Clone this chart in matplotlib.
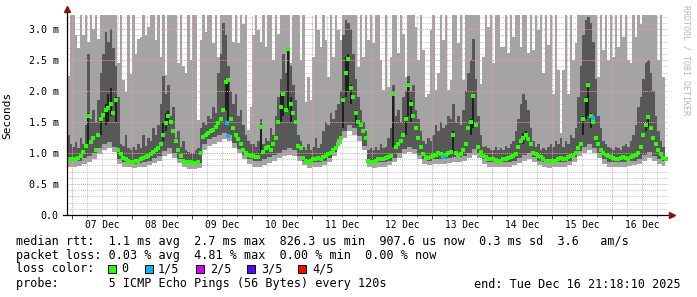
import numpy as np
import matplotlib
matplotlib.use("Agg")
import matplotlib.pyplot as plt
from matplotlib.patches import Rectangle
from matplotlib.lines import Line2D

# ---------------- data (hours since 07 Dec 00:00, values in ms) ----------------
day_labels = ["07 Dec", "08 Dec", "09 Dec", "10 Dec", "11 Dec",
              "12 Dec", "13 Dec", "14 Dec", "15 Dec", "16 Dec"]
hour_start = -2          # first hourly sample
end_hour = 237.3         # end: Tue Dec 16 21:18:10

# median rtt, hourly
median = [0.91, 0.90,
    0.90, 0.91, 0.92, 0.95, 1.02, 1.12, 1.60, 1.18, 1.25, 1.05, 1.30, 1.55, 1.62, 1.70, 1.72, 1.80, 1.65, 1.85, 1.05, 0.98, 0.92, 0.90, 0.88, 0.86,
    0.86, 0.87, 0.88, 0.90, 0.92, 0.93, 0.95, 0.98, 1.02, 1.05, 1.08, 1.15, 1.30, 1.48, 1.60, 1.50, 1.35, 1.20, 1.05, 0.95, 0.88, 0.86, 0.85, 0.85,
    0.84, 0.84, 0.86, 1.00, 1.26, 1.30, 1.33, 1.35, 1.38, 1.42, 1.48, 1.55, 1.70, 2.15, 2.18, 1.55, 1.40, 1.30, 1.22, 1.15, 1.05, 1.00, 0.97, 0.95,
    0.95, 0.93, 0.94, 1.42, 1.02, 1.08, 1.10, 1.05, 1.15, 1.25, 1.50, 1.75, 1.95, 1.70, 2.68, 1.80, 1.65, 1.50, 1.12, 1.08, 0.92, 0.88, 0.86, 0.87,
    0.90, 0.91, 0.92, 0.90, 0.93, 0.96, 0.98, 1.00, 1.05, 1.08, 1.15, 1.25, 1.85, 2.30, 2.52, 2.05, 1.90, 1.65, 1.50, 1.45, 1.35, 1.25, 0.88, 0.86,
    0.86, 0.88, 0.90, 0.90, 0.91, 0.92, 0.93, 0.95, 1.95, 1.10, 1.15, 1.20, 1.30, 1.55, 2.10, 1.80, 1.60, 1.40, 1.25, 1.10, 0.98, 0.93, 0.92, 0.94,
    0.95, 0.97, 1.00, 0.98, 0.96, 0.97, 1.00, 1.02, 1.30, 1.00, 0.97, 0.98, 1.05, 1.15, 1.40, 1.50, 1.92, 1.45, 1.10, 1.02, 0.96, 0.93, 0.90, 0.90,
    0.90, 0.89, 0.88, 0.88, 0.90, 0.91, 0.92, 0.93, 0.95, 0.98, 1.10, 1.20, 1.25, 1.30, 1.22, 1.15, 1.00, 0.98, 0.95, 0.93, 0.90, 0.88, 0.87, 0.87,
    0.88, 0.88, 0.90, 0.92, 0.90, 0.91, 0.93, 0.95, 0.96, 1.00, 1.08, 1.15, 1.55, 1.85, 2.10, 1.60, 1.50, 1.25, 1.15, 1.05, 1.00, 0.97, 0.95, 0.93,
    0.92, 0.91, 0.90, 0.92, 0.93, 0.92, 0.91, 0.93, 0.95, 0.97, 1.00, 1.10, 1.30, 1.45, 1.58, 1.40, 1.25, 1.15, 1.05, 0.98, 0.92, 0.90]

# slowest ping (top of the smoke), hourly
ping_max = [2.25, 3.4,
    3.4, 2.90, 2.70, 3.4, 2.90, 3.4, 2.80, 3.4, 3.00, 3.4, 2.85, 3.4, 3.4, 3.4, 3.4, 3.4, 3.4, 3.4, 2.45, 3.4, 2.18, 1.99, 3.4, 2.28,
    3.4, 2.60, 2.85, 2.88, 3.4, 2.90, 3.03, 3.4, 3.4, 2.82, 3.4, 2.55, 3.4, 2.26, 3.4, 3.4, 3.4, 3.4, 2.45, 3.4, 2.40, 2.30, 3.4, 2.50,
    3.4, 3.4, 1.53, 2.82, 3.4, 2.96, 3.4, 3.4, 2.77, 3.4, 2.55, 3.4, 3.4, 3.4, 3.4, 3.4, 2.80, 3.4, 2.77, 3.4, 3.09, 3.4, 1.37, 1.75,
    2.90, 3.4, 2.98, 2.80, 3.4, 2.71, 3.4, 3.4, 2.50, 3.4, 2.93, 3.4, 3.4, 3.4, 3.4, 2.45, 3.4, 3.4, 3.4, 2.50, 3.4, 1.83, 2.23, 1.85,
    2.55, 3.4, 2.98, 2.71, 3.4, 2.82, 2.23, 3.4, 2.55, 3.4, 2.98, 2.82, 3.4, 3.4, 3.4, 3.4, 3.4, 3.4, 2.39, 3.4, 2.55, 3.4, 2.82, 3.4,
    2.77, 3.4, 3.4, 2.50, 2.02, 3.4, 2.07, 2.55, 3.4, 3.4, 2.61, 3.4, 2.93, 2.23, 3.4, 3.4, 3.4, 3.04, 2.50, 3.4, 2.66, 1.91, 1.95, 2.98,
    3.4, 2.02, 2.29, 3.4, 2.82, 3.4, 2.02, 2.18, 3.4, 3.4, 2.77, 3.4, 2.18, 3.4, 3.4, 3.4, 3.4, 3.4, 3.4, 2.12, 2.55, 3.4, 3.04, 3.4,
    2.45, 3.4, 3.4, 2.71, 2.71, 3.4, 2.61, 3.4, 2.88, 3.4, 3.4, 2.71, 3.4, 3.4, 2.61, 3.4, 2.66, 3.4, 2.98, 3.4, 2.30, 3.4, 2.75, 3.4,
    1.96, 3.4, 2.34, 1.32, 2.34, 3.4, 1.96, 3.4, 2.50, 2.77, 3.4, 3.4, 3.4, 3.4, 3.4, 3.4, 3.4, 3.4, 2.23, 3.4, 2.66, 3.4, 2.50, 3.4,
    2.55, 3.4, 2.71, 3.4, 2.88, 3.4, 2.50, 2.45, 3.4, 2.88, 3.4, 3.09, 3.4, 3.4, 3.4, 3.4, 3.4, 3.4, 2.50, 3.4, 2.23, 2.82]

# upper edge of the dark smoke, hourly
ping_high = [1.30, 1.15,
    1.10, 1.18, 1.08, 1.25, 1.15, 1.45, 2.60, 1.55, 1.70, 1.50, 1.85, 2.30, 2.60, 2.95, 2.80, 3.00, 2.70, 2.40, 1.90, 1.15, 1.12, 1.30, 1.08, 1.05,
    1.10, 1.05, 1.15, 1.08, 1.30, 1.12, 1.25, 1.20, 1.40, 1.30, 1.45, 1.80, 2.25, 1.95, 2.10, 1.60, 1.75, 1.25, 1.35, 1.10, 1.20, 1.05, 1.02, 1.00,
    1.00, 1.05, 1.08, 1.40, 1.50, 1.45, 1.60, 1.55, 1.75, 1.65, 2.30, 2.60, 3.10, 2.90, 2.40, 2.00, 1.80, 1.95, 1.60, 1.70, 1.45, 1.30, 1.20, 1.15,
    1.15, 1.10, 1.20, 1.55, 1.15, 1.25, 1.20, 1.40, 1.30, 1.60, 1.90, 2.20, 2.60, 2.30, 2.70, 2.40, 2.10, 1.85, 1.30, 1.20, 1.10, 1.05, 1.15, 1.05,
    1.10, 1.25, 1.08, 1.15, 1.35, 1.50, 1.45, 1.65, 1.55, 1.70, 1.80, 2.00, 2.90, 3.15, 3.10, 3.00, 2.60, 2.20, 1.90, 1.70, 1.50, 1.35, 1.05, 1.08,
    1.05, 1.10, 1.05, 1.15, 1.08, 1.10, 1.25, 1.40, 2.10, 1.60, 1.70, 1.50, 1.90, 2.00, 2.25, 2.00, 2.10, 1.70, 1.55, 1.35, 1.20, 1.15, 1.25, 1.20,
    1.30, 1.45, 1.35, 1.50, 1.40, 1.45, 1.60, 1.55, 1.80, 1.50, 1.60, 1.45, 1.70, 2.00, 2.30, 2.50, 2.85, 2.20, 1.60, 1.30, 1.10, 1.12, 1.08, 1.05,
    1.05, 1.10, 1.05, 1.08, 1.05, 1.12, 1.08, 1.15, 1.20, 1.35, 1.55, 1.80, 1.95, 1.85, 1.70, 1.40, 1.20, 1.10, 1.15, 1.05, 1.08, 1.05, 1.10, 1.15,
    1.10, 1.20, 1.15, 1.25, 1.10, 1.20, 1.15, 1.30, 1.25, 1.40, 1.90, 2.40, 2.90, 3.15, 3.20, 3.10, 2.80, 2.20, 1.60, 1.40, 1.20, 1.15, 1.10, 1.08,
    1.05, 1.10, 1.08, 1.05, 1.12, 1.15, 1.10, 1.20, 1.30, 1.45, 1.75, 1.90, 2.20, 2.45, 2.50, 2.30, 2.00, 1.60, 1.35, 1.20, 1.10, 1.08]

# two-hourly lower smoke bands
ping_min = [0.78,
    0.78, 0.79, 0.82, 0.86, 0.90, 0.98, 1.05, 1.08, 1.02, 0.82, 0.78, 0.77,
    0.76, 0.77, 0.78, 0.80, 0.84, 0.88, 0.95, 0.98, 0.92, 0.84, 0.77, 0.75,
    0.74, 0.76, 1.05, 1.12, 1.15, 1.18, 1.22, 1.20, 1.08, 1.00, 0.90, 0.82,
    0.78, 0.78, 0.80, 0.84, 0.88, 0.92, 0.95, 0.97, 0.95, 0.88, 0.80, 0.76,
    0.77, 0.78, 0.80, 0.85, 0.95, 1.15, 1.25, 1.35, 1.30, 1.20, 1.05, 0.78,
    0.76, 0.77, 0.78, 0.80, 0.85, 0.92, 0.98, 1.02, 0.98, 0.90, 0.82, 0.80,
    0.82, 0.82, 0.83, 0.84, 0.85, 0.86, 0.88, 0.92, 0.97, 0.92, 0.82, 0.78,
    0.77, 0.77, 0.78, 0.78, 0.80, 0.84, 0.88, 0.90, 0.85, 0.80, 0.78, 0.76,
    0.77, 0.77, 0.78, 0.80, 0.85, 0.95, 1.00, 1.05, 1.00, 0.92, 0.82, 0.78,
    0.77, 0.77, 0.78, 0.79, 0.80, 0.82, 0.88, 0.92, 0.88, 0.82, 0.79]

ping_low = [0.87,
    0.87, 0.88, 0.92, 0.96, 1.00, 1.08, 1.15, 1.18, 1.10, 0.90, 0.86, 0.84,
    0.83, 0.84, 0.86, 0.88, 0.92, 0.96, 1.04, 1.08, 1.00, 0.90, 0.84, 0.82,
    0.81, 0.84, 1.15, 1.22, 1.26, 1.30, 1.32, 1.30, 1.16, 1.06, 0.97, 0.90,
    0.87, 0.88, 0.90, 0.94, 0.97, 1.00, 1.05, 1.08, 1.05, 0.96, 0.88, 0.84,
    0.85, 0.86, 0.88, 0.92, 1.02, 1.22, 1.35, 1.45, 1.40, 1.28, 1.12, 0.85,
    0.84, 0.85, 0.86, 0.88, 0.92, 1.00, 1.06, 1.10, 1.06, 0.97, 0.90, 0.88,
    0.90, 0.90, 0.91, 0.92, 0.93, 0.94, 0.96, 1.00, 1.06, 1.00, 0.90, 0.86,
    0.85, 0.85, 0.86, 0.86, 0.88, 0.92, 0.97, 1.00, 0.93, 0.88, 0.85, 0.84,
    0.85, 0.85, 0.86, 0.88, 0.93, 1.03, 1.10, 1.15, 1.08, 1.00, 0.90, 0.86,
    0.85, 0.85, 0.86, 0.87, 0.88, 0.90, 0.97, 1.02, 0.96, 0.90, 0.87]

# darkest smoke core streaks (hour, lower edge, upper edge)
core_hour = [6, 11, 13, 14, 15, 17, 36, 37, 38, 61, 62, 75, 83, 84, 86, 87,
             108, 109, 110, 111, 113, 128, 133, 134, 135, 152, 159, 160,
             180, 181, 204, 205, 206, 207, 229, 230]
core_low = [1.15, 1.30, 1.45, 1.50, 1.60, 1.50, 1.20, 1.35, 1.45, 1.70, 1.50, 1.00,
            1.50, 1.60, 1.70, 1.50, 1.40, 1.90, 2.00, 1.80, 1.45, 1.10, 1.30, 1.60,
            1.50, 1.00, 1.30, 1.40, 1.15, 1.20, 1.30, 1.55, 1.60, 1.40, 1.35, 1.40]
core_high = [1.65, 1.60, 1.80, 1.95, 2.05, 1.90, 1.50, 1.65, 1.68, 2.20, 2.20, 1.45,
             1.95, 2.00, 2.70, 1.90, 1.90, 2.55, 2.60, 2.10, 1.70, 1.98, 1.60, 2.15,
             1.85, 1.35, 1.55, 1.95, 1.32, 1.35, 1.60, 1.90, 2.15, 1.65, 1.50, 1.62]

# samples with 1/5 packet loss
loss1_hour = [61.9, 62.3, 148.9, 208.5]
loss1_value = [1.48, 1.28, 0.94, 1.56]

y_ticks = [0.0, 0.5, 1.0, 1.5, 2.0, 2.5, 3.0]
y_tick_labels = ["0.0", "0.5 m", "1.0 m", "1.5 m", "2.0 m", "2.5 m", "3.0 m"]

legend_lines = [
    "median rtt:  1.1 ms avg  2.7 ms max  826.3 us min  907.6 us now  0.3 ms sd  3.6   am/s",
    "packet loss: 0.03 % avg  4.81 % max  0.00 % min  0.00 % now",
]
loss_labels = ["0", "1/5", "2/5", "3/5", "4/5"]
loss_colors = ["#26ff00", "#00b8ff", "#d000ff", "#5e00ff", "#ff0000"]
probe_text = "probe:       5 ICMP Echo Pings (56 Bytes) every 120s"
end_text = "end: Tue Dec 16 21:18:10 2025"

# ---------------- figure ----------------
W, H = 697, 297
fig = plt.figure(figsize=(W / 100, H / 100), dpi=100)
fig.patch.set_facecolor("white")
ax = fig.add_axes([67 / W, (H - 215) / H, 601 / W, 200 / H])
ax.set_facecolor("white")

mono = "DejaVu Sans Mono"
LIGHT = "#a4a4a4"
DARK = "#585858"
CORE = "#202020"

x1 = hour_start + np.arange(len(median))
x1e = np.append(x1, end_hour)

def ext(a):
    a = np.asarray(a, float)
    return np.append(a, a[-1])

# two-hour bands on the hourly grid (each two-hour value covers two hours)
min_hourly = np.repeat(ping_min, 2)[:len(median)]
low_hourly = np.repeat(ping_low, 2)[:len(median)]

ax.fill_between(x1e, ext(min_hourly), ext(ping_max), step="post", color=LIGHT, lw=0, zorder=1)
ax.fill_between(x1e, ext(low_hourly), ext(ping_high), step="post", color=DARK, lw=0, zorder=1.2)
ax.bar(np.asarray(core_hour) + 0.15, np.asarray(core_high) - np.asarray(core_low),
       bottom=core_low, width=0.7, align="edge", color=CORE, lw=0, zorder=1.3)

ax.plot(x1 + 0.5, median, linestyle="none", marker="s", ms=2.4, mew=0,
        color=loss_colors[0], zorder=3)
ax.plot(loss1_hour, loss1_value, linestyle="none", marker="s", ms=2.4, mew=0,
        color=loss_colors[1], zorder=3)

ax.set_xlim(-2, 238.4)
ax.set_ylim(0, 3.23)

# grid: minor under the smoke, major (red) over it
dot = (0, (1, 1))
for h in np.arange(-0, 239, 6):
    if h % 24:
        ax.axvline(h, color="#c4c4c4", lw=0.7, ls=dot, zorder=0.5)
for v in np.arange(0.1, 3.25, 0.1):
    if abs(v / 0.5 - round(v / 0.5)) > 1e-6:
        ax.axhline(v, color="#c4c4c4", lw=0.7, ls=dot, zorder=0.5)
for h in np.arange(0, 239, 24):
    ax.axvline(h, color="#e89a9a", lw=0.7, ls=dot, zorder=2.6)
for v in y_ticks[1:]:
    ax.axhline(v, color="#e89a9a", lw=0.7, ls=dot, zorder=2.6)

# axes & ticks
for s in ax.spines.values():
    s.set_visible(False)
ax.set_yticks(y_ticks)
ax.set_yticklabels(y_tick_labels, family=mono, fontsize=7.2)
ax.set_xticks(np.arange(0, 239, 24))
ax.set_xticklabels([])
ax.set_xticks(np.arange(0, 239, 6), minor=True)
ax.set_yticks(np.arange(0, 3.25, 0.1), minor=True)
ax.tick_params(axis="both", which="major", length=3, width=0.7, color="#404040", pad=4)
ax.tick_params(axis="both", which="minor", length=1.5, width=0.7, color="#808080")
ax.tick_params(axis="y", which="both", length=0, pad=6)
for i, lab in enumerate(day_labels):
    ax.text(12 + 24 * i, -0.05, lab, transform=ax.get_xaxis_transform(),
            ha="center", va="center", family=mono, fontsize=6.9)
ax.set_ylabel("Seconds", family=mono, fontsize=8, labelpad=8)
ax.yaxis.set_label_coords(-55 / 601, 0.5)

ax.add_line(Line2D([0, 0], [0, 1.03], transform=ax.transAxes, color="black",
                   lw=0.9, clip_on=False, zorder=5))
ax.add_line(Line2D([-0.006, 1.003], [0, 0], transform=ax.transAxes, color="black",
                   lw=0.9, clip_on=False, zorder=5))
ax.plot([0], [1.03], marker="^", ms=4, color="#8b1010", transform=ax.transAxes,
        clip_on=False, zorder=6)
ax.plot([1.006], [0], marker=">", ms=4, color="#8b1010", transform=ax.transAxes,
        clip_on=False, zorder=6)

# watermark
fig.text(686 / W, 1 - 5 / H, "RRDTOOL / TOBI OETIKER", rotation=270, ha="center",
         va="top", family=mono, fontsize=6, color="#b8b8b8")

# legend block
def fy(y):
    return 1 - y / H

fig.text(16 / W, fy(241), legend_lines[0], family=mono, fontsize=8.5, va="center")
fig.text(16 / W, fy(255), legend_lines[1], family=mono, fontsize=8.5, va="center")
fig.text(16 / W, fy(269), "loss color:", family=mono, fontsize=8.5, va="center")
sq_x = [108, 145, 196, 247, 298]
lab_x = [121, 158, 210, 261, 312]
for sx, lx, lab, col in zip(sq_x, lab_x, loss_labels, loss_colors):
    fig.add_artist(Rectangle((sx / W, fy(273)), 8 / W, 8 / H, transform=fig.transFigure,
                             facecolor=col, edgecolor="black", lw=0.7))
    fig.text(lx / W, fy(269), lab, family=mono, fontsize=8.5, va="center")
fig.text(16 / W, fy(284), probe_text, family=mono, fontsize=8.5, va="center")
fig.text(681 / W, fy(284), end_text, family=mono, fontsize=8.5, va="center", ha="right")

fig.savefig("out.png", dpi=100, facecolor="white")
